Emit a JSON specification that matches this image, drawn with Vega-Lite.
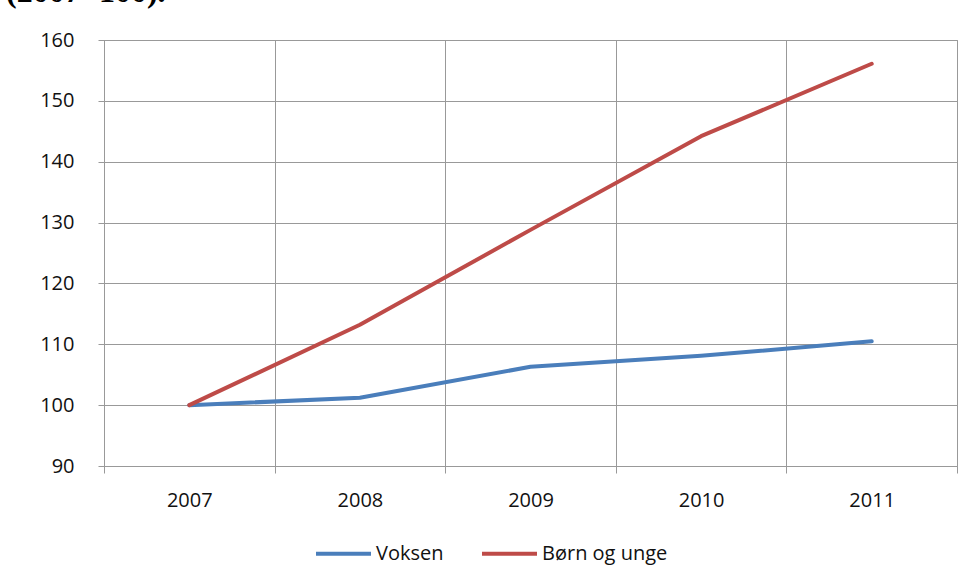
{
  "$schema": "https://vega.github.io/schema/vega-lite/v6.json",
  "width": 853,
  "height": 426,
  "autosize": {"type": "none"},
  "padding": {"left": 104, "top": 40, "right": 18, "bottom": 122},
  "background": "white",
  "title": {
    "text": "(2007=100).",
    "anchor": "start",
    "frame": "group",
    "font": "Liberation Serif",
    "fontWeight": "bold",
    "fontSize": 32,
    "color": "black",
    "baseline": "alphabetic",
    "dx": -98,
    "dy": 4,
    "offset": 0
  },
  "data": {
    "values": [
      {"year": "2007", "series": "Voksen", "value": 100},
      {"year": "2008", "series": "Voksen", "value": 101.2},
      {"year": "2009", "series": "Voksen", "value": 106.3},
      {"year": "2010", "series": "Voksen", "value": 108.1},
      {"year": "2011", "series": "Voksen", "value": 110.5},
      {"year": "2007", "series": "Børn og unge", "value": 100},
      {"year": "2008", "series": "Børn og unge", "value": 113.2},
      {"year": "2009", "series": "Børn og unge", "value": 128.8},
      {"year": "2010", "series": "Børn og unge", "value": 144.2},
      {"year": "2011", "series": "Børn og unge", "value": 156.1}
    ]
  },
  "mark": {"type": "line", "strokeWidth": 4, "strokeCap": "round", "strokeJoin": "round"},
  "encoding": {
    "x": {
      "field": "year",
      "type": "ordinal",
      "scale": {"paddingInner": 0, "paddingOuter": 0},
      "axis": {
        "title": null,
        "labelAngle": 0,
        "tickBand": "extent",
        "grid": true,
        "gridColor": "#999999",
        "gridWidth": 1,
        "tickColor": "#999999",
        "tickSize": 7,
        "domainColor": "#999999",
        "labelFont": "Open Sans",
        "labelFontSize": 20,
        "labelColor": "#111111",
        "labelPadding": 17
      }
    },
    "y": {
      "field": "value",
      "type": "quantitative",
      "scale": {"domain": [90, 160], "nice": false, "zero": false},
      "axis": {
        "title": null,
        "values": [90, 100, 110, 120, 130, 140, 150, 160],
        "grid": true,
        "gridColor": "#999999",
        "gridWidth": 1,
        "tickColor": "#999999",
        "tickSize": 6,
        "domainColor": "#999999",
        "labelFont": "Open Sans",
        "labelFontSize": 20,
        "labelColor": "#111111",
        "labelPadding": 24
      }
    },
    "color": {
      "field": "series",
      "type": "nominal",
      "sort": ["Voksen", "Børn og unge"],
      "scale": {"domain": ["Voksen", "Børn og unge"], "range": ["#4A7EBB", "#BE4B48"]},
      "legend": {
        "title": null,
        "orient": "none",
        "direction": "horizontal",
        "legendX": 210,
        "legendY": 484,
        "padding": 0,
        "symbolType": "stroke",
        "symbolSize": 3025,
        "symbolStrokeWidth": 4,
        "labelFont": "Open Sans",
        "labelFontSize": 20,
        "labelColor": "#111111",
        "columnPadding": 30,
        "labelOffset": 3
      }
    }
  },
  "config": {
    "view": {"stroke": "#999999", "strokeWidth": 1}
  }
}
